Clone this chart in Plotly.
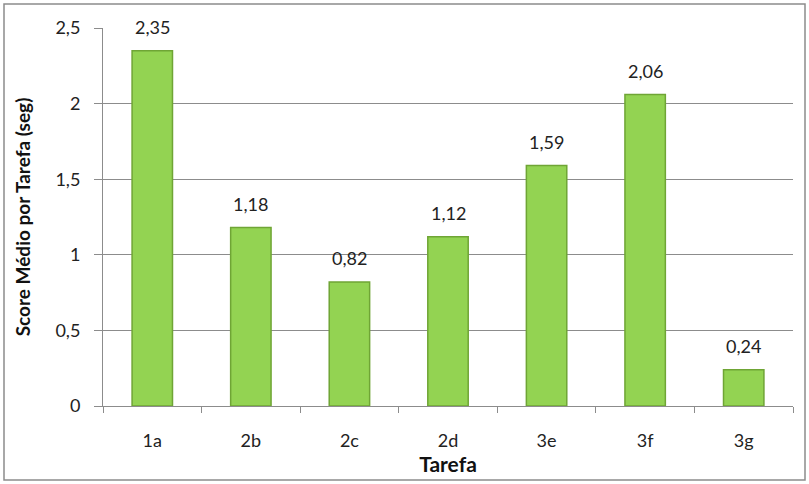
import plotly.graph_objects as go

# Mean score per task (seconds)
tarefas = ["1a", "2b", "2c", "2d", "3e", "3f", "3g"]
score_medio = [2.35, 1.18, 0.82, 1.12, 1.59, 2.06, 0.24]
y_ticks = [0, 0.5, 1, 1.5, 2, 2.5]
y_tick_labels = ["0", "0,5", "1", "1,5", "2", "2,5"]

W, H = 809, 484
ML, MR, MT, MB = 103, 16, 28, 78
FONT = "Lato, 'Open Sans', sans-serif"
GRAY = "#8c8c8c"

fig = go.Figure()
fig.add_trace(go.Bar(
    x=tarefas,
    y=score_medio,
    marker=dict(color="#93d352", line=dict(color="#6fa535", width=1.5)),
    width=0.41,
    hoverinfo="skip",
))

# value labels above each bar
for t, v in zip(tarefas, score_medio):
    fig.add_annotation(
        x=t, y=v, text=f"{v:.2f}".replace(".", ","),
        showarrow=False, yanchor="bottom", yshift=11,
        font=dict(family=FONT, size=18, color="#222"),
    )

# outer chart frame (paper coordinates spanning the margins)
pw, ph = W - ML - MR, H - MT - MB
fig.add_shape(
    type="rect", xref="paper", yref="paper",
    x0=(4 - ML) / pw, x1=(805 - ML) / pw,
    y0=-(480 - (H - MB)) / ph,
    y1=1 + (MT - 4) / ph,
    line=dict(color=GRAY, width=1.5), layer="below",
)

fig.update_layout(
    width=W, height=H,
    margin=dict(l=ML, r=MR, t=MT, b=MB),
    paper_bgcolor="white", plot_bgcolor="white",
    showlegend=False,
    font=dict(family=FONT, size=18, color="#222"),
    xaxis=dict(
        title=dict(text="<b>Tarefa</b>", font=dict(size=21, color="#111"), standoff=5),
        showline=True, linecolor=GRAY, linewidth=1,
        ticks="outside", tickson="boundaries", ticklen=6, tickcolor=GRAY,
        ticklabelstandoff=18,
        showgrid=False,
        tickfont=dict(size=18),
    ),
    yaxis=dict(
        title=dict(text="<b>Score Médio por Tarefa (seg)</b>", font=dict(size=19, color="#111"), standoff=19),
        range=[0, 2.5],
        tickvals=y_ticks, ticktext=y_tick_labels,
        showline=True, linecolor=GRAY, linewidth=1,
        ticks="outside", ticklen=8, tickcolor=GRAY,
        ticklabelstandoff=10,
        showgrid=True, gridcolor=GRAY, gridwidth=1,
        zeroline=False,
        tickfont=dict(size=18),
    ),
)

fig.write_html("out.html")
